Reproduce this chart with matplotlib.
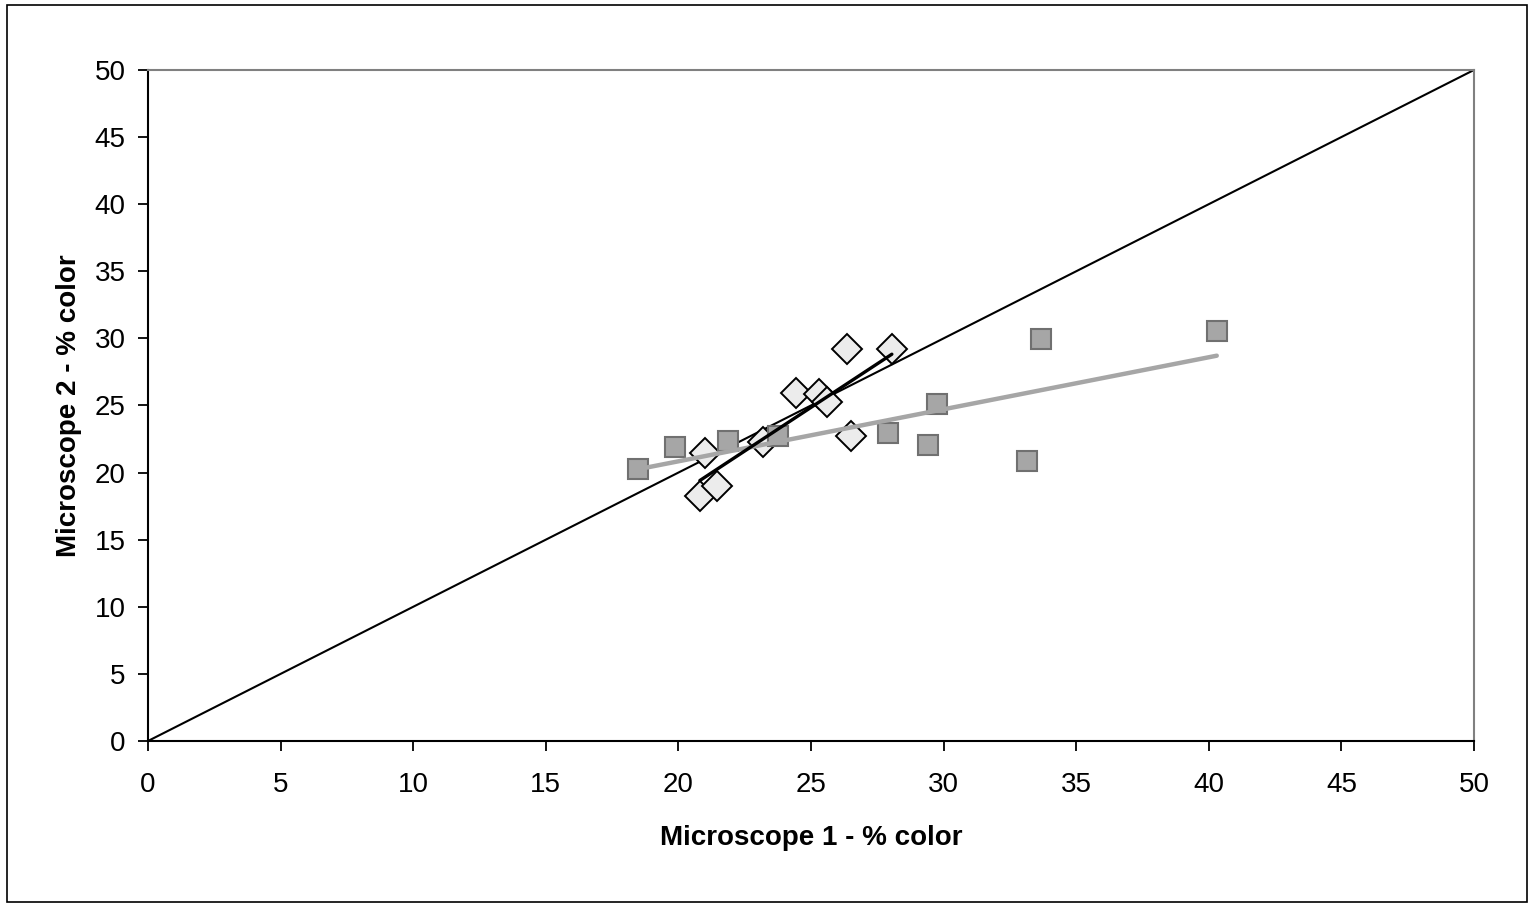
import matplotlib.pyplot as plt
import numpy as np
from matplotlib.patches import Rectangle

plt.rcParams["font.family"] = ["Liberation Sans", "DejaVu Sans"]

# diamonds series
diamond_x = [21.02, 20.81, 21.47, 23.2, 24.42, 25.29, 25.59, 26.37, 26.51, 28.05]
diamond_y = [21.43, 18.28, 19.02, 22.26, 25.91, 25.86, 25.24, 29.19, 22.73, 29.19]

# squares series
square_x = [18.48, 19.87, 21.87, 23.76, 27.9, 29.41, 29.75, 33.14, 33.67, 40.3]
square_y = [20.27, 21.9, 22.35, 22.7, 22.95, 22.06, 25.1, 20.86, 29.96, 30.55]

identity = [0, 50]
ticks = list(range(0, 51, 5))

fig = plt.figure(figsize=(15.3, 9.05), dpi=100)
ax = fig.add_axes([0.0967, 0.1812, 0.8667, 0.7415])

# outer chart border
fig.patches.append(Rectangle((0.0046, 0.003), 0.9935, 0.9915, transform=fig.transFigure,
                             fill=False, edgecolor="black", linewidth=1.2))

ax.plot(identity, identity, color="black", linewidth=1.5, zorder=1)

ax.plot(diamond_x, diamond_y, linestyle="none", marker="D", markersize=15.5,
        markerfacecolor="#ececec", markeredgecolor="black", markeredgewidth=1.4, zorder=2)
ax.plot(square_x, square_y, linestyle="none", marker="s", markersize=15,
        markerfacecolor="#a6a6a6", markeredgecolor="#707070", markeredgewidth=1.5, zorder=3)

# linear trendlines
for xs, ys, col, lw in [(square_x, square_y, "#a6a6a6", 3.2), (diamond_x, diamond_y, "black", 2.4)]:
    k, b = np.polyfit(xs, ys, 1)
    xl = np.array([min(xs), max(xs)])
    ax.plot(xl, k * xl + b, color=col, linewidth=lw, solid_capstyle="round", zorder=4)

ax.set_xlim(0, 50)
ax.set_ylim(0, 50)
ax.set_xticks(ticks)
ax.set_yticks(ticks)
ax.tick_params(direction="out", length=7, width=1.3, labelsize=20)
ax.tick_params(axis="x", pad=15)
ax.tick_params(axis="y", pad=9)
for s in ["left", "bottom"]:
    ax.spines[s].set_color("black")
    ax.spines[s].set_linewidth(1.5)
for s in ["top", "right"]:
    ax.spines[s].set_color("#808080")
    ax.spines[s].set_linewidth(1.5)

ax.set_xlabel("Microscope 1 - % color", fontsize=20, fontweight="bold", labelpad=20)
ax.set_ylabel("Microscope 2 - % color", fontsize=20, fontweight="bold", labelpad=9)

fig.savefig("out.png", dpi=100)
